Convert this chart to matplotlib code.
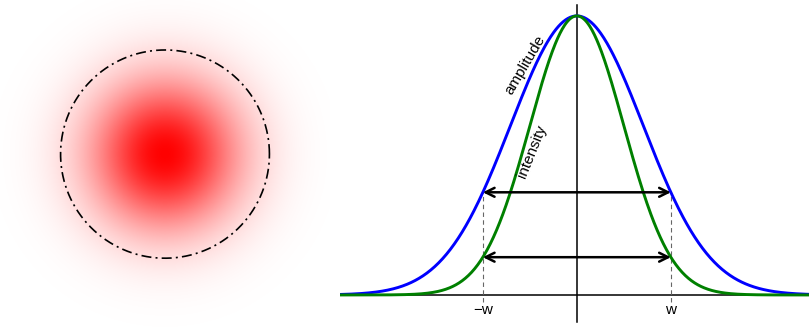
import numpy as np
import matplotlib.pyplot as plt

plt.rcParams['font.family'] = ['Liberation Sans', 'DejaVu Sans']

# beam waist and the two widths marked on the profile
w = 1.0
levels = [np.exp(-1), np.exp(-2)]
tick_pos = [-w, w]
tick_labels = ["\u2212w", "w"]
curve_names = ["amplitude", "intensity"]
curve_colors = ["blue", "green"]

fig = plt.figure(figsize=(8.09, 3.29), dpi=100)

# --- left: transverse spot ---
ax1 = fig.add_axes([0, 0, 330 / 809, 1])
n = 400
xs = np.linspace(-1.58, 1.58, n)
ys = np.linspace(-1.68, 1.48, n)
X, Y = np.meshgrid(xs, ys)
I = np.exp(-2 * (X**2 + Y**2) / w**2)
rgba = np.zeros((n, n, 4))
rgba[..., 0] = 1.0
rgba[..., 3] = I
ax1.imshow(rgba, extent=(xs[0], xs[-1], ys[0], ys[-1]), origin="lower",
           interpolation="bilinear")
t = np.linspace(0, 2 * np.pi, 400)
ax1.plot(w * np.cos(t), w * np.sin(t), color="black", lw=1.2, ls="-.",
         dashes=(6, 2.5, 1.2, 2.5))
ax1.set_xlim(xs[0], xs[-1])
ax1.set_ylim(ys[0], ys[-1])
ax1.set_aspect("auto")
ax1.axis("off")

# --- right: radial profile ---
ax2 = fig.add_axes([340 / 809, 0, 469 / 809, 1])
x = np.linspace(-2.52, 2.47, 600)
amp = np.exp(-x**2 / w**2)
inten = np.exp(-2 * x**2 / w**2)
ax2.axhline(0, color="black", lw=1.1, zorder=1)
ax2.plot([0, 0], [-0.097, 1.04], color="black", lw=1.1, zorder=1)
ax2.plot(x, amp, color=curve_colors[0], lw=2.1, zorder=3)
ax2.plot(x, inten, color=curve_colors[1], lw=2.1, zorder=3)

for xp in tick_pos:
    ax2.plot([xp, xp], [-0.025, levels[0]], color="0.4", lw=0.8,
             ls=(0, (4, 3)), zorder=2)

for lv in levels:
    ax2.annotate("", xy=(-w, lv), xytext=(w, lv),
                 arrowprops=dict(arrowstyle="<->", color="black", lw=1.8,
                                 mutation_scale=16, shrinkA=0, shrinkB=0),
                 zorder=4)

for xp, lab in zip(tick_pos, tick_labels):
    ax2.text(xp, -0.054, lab, ha="center", va="center", fontsize=11)

ax2.text(-0.553, 0.824, curve_names[0], rotation=59.5, ha="center",
         va="center", fontsize=11, rotation_mode="anchor")
ax2.text(-0.479, 0.513, curve_names[1], rotation=68, ha="center",
         va="center", fontsize=11, rotation_mode="anchor")

ax2.set_xlim(-2.52, 2.47)
ax2.set_ylim(-0.122, 1.057)
ax2.axis("off")

fig.savefig("out.png", dpi=100)
